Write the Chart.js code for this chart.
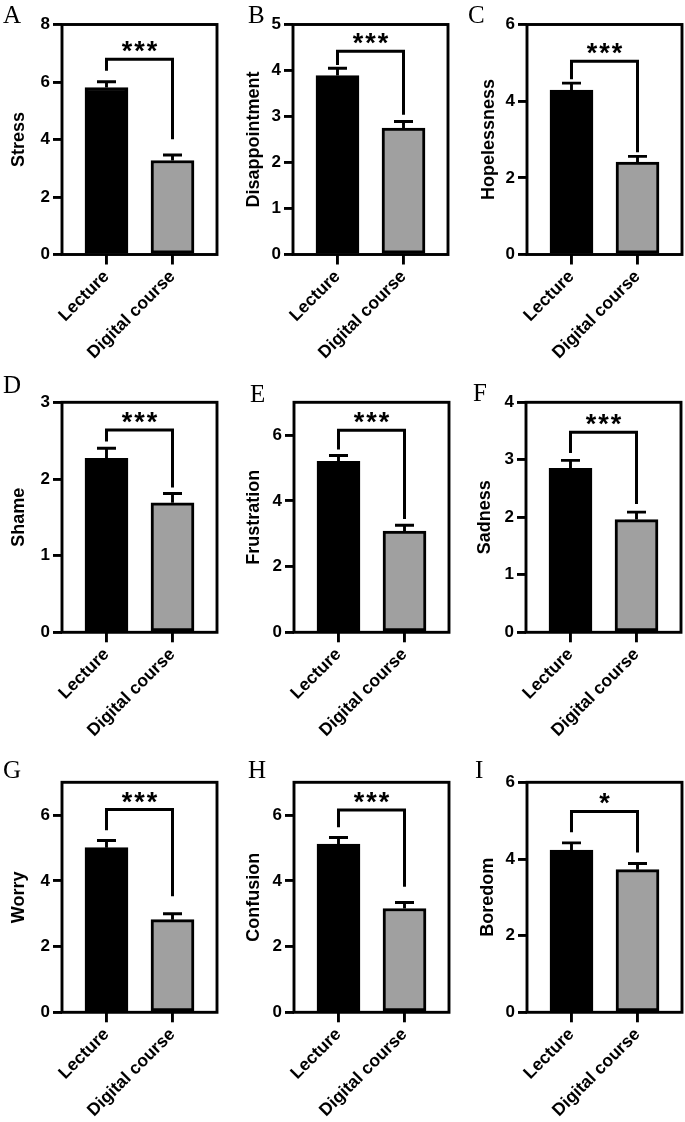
<!DOCTYPE html>
<html>
<head>
<meta charset="utf-8">
<script src="https://cdn.jsdelivr.net/npm/chart.js@4.4.1/dist/chart.umd.min.js"></script>
<style>
  body { margin: 0; background: #fff; }
  #page { position: relative; width: 685px; height: 1122px; overflow: hidden; background: #fff; }
  .panel { position: absolute; }
  .letter { position: absolute; font-family: "Liberation Serif", "DejaVu Serif", serif; font-size: 25px; line-height: 25px; color: #000; }
</style>
</head>
<body>
<div id="page"></div>
<script>
const panelLetters = ["A", "B", "C", "D", "E", "F", "G", "H", "I"];
const measures = ["Stress", "Disappointment", "Hopelessness", "Shame", "Frustration", "Sadness", "Worry", "Confusion", "Boredom"];
const groups = ["Lecture", "Digital course"];

const lectureMeans = [5.81, 3.89, 4.29, 2.27, 5.20, 2.85, 5.01, 5.12, 4.23];
const lectureSem   = [0.20, 0.16, 0.18, 0.13, 0.18, 0.14, 0.22, 0.20, 0.19];
const digitalMeans = [3.27, 2.75, 2.41, 1.69, 3.08, 1.96, 2.82, 3.16, 3.72];
const digitalSem   = [0.19, 0.14, 0.15, 0.12, 0.18, 0.13, 0.18, 0.18, 0.16];

const yMax  = [8, 5, 6, 3, 7, 4, 7, 7, 6];
const yStep = [2, 1, 2, 1, 2, 1, 2, 2, 2];

// significance brackets (y values)
const bracketTop      = [6.79, 4.42, 5.04, 2.64, 6.15, 3.48, 6.17, 6.16, 5.24];
const bracketLeftEnd  = [6.39, 4.12, 4.57, 2.49, 5.56, 3.12, 5.54, 5.63, 4.70];
const bracketRightEnd = [4.01, 3.04, 2.67, 1.89, 3.45, 2.23, 3.53, 3.82, 4.17];
const stars = ["***", "***", "***", "***", "***", "***", "***", "***", "*"];

// layout
const colX = [0, 228, 455];
const colW = [228, 227, 230];
const rowY = [0, 375, 755];
const rowH = [370, 370, 367];
const rowPadTop = [24.5, 27.3, 27.3];
const plotW = 155;
const plotH = 230;
const axisLeft = [62, 65, 72, 62, 66, 71, 62, 66, 72];
const titleCenter = [19, 26, 34, 19.5, 26, 30, 19, 26, 33];
const letterPos = [[3, 23.3], [248, 23.3], [468, 23.3], [3, 392.7], [250, 402], [473, 400.7], [3, 778.3], [248, 778.3], [475, 778.3]];

const FONT = "'Liberation Sans', Arial, sans-serif";
const LINE = 2.9;

const panelDecor = {
  id: "panelDecor",
  afterDatasetsDraw(chart, args, opts) {
    const i = opts.index;
    const { ctx, chartArea: a } = chart;
    const x = chart.scales.x, y = chart.scales.y;
    ctx.save();
    ctx.strokeStyle = "#000";
    ctx.lineWidth = LINE;

    // error bars
    [[lectureMeans, lectureSem], [digitalMeans, digitalSem]].forEach(([m, s], g) => {
      const cx = x.getPixelForValue(g);
      const y0 = y.getPixelForValue(m[i]);
      const y1 = y.getPixelForValue(m[i] + s[i]);
      ctx.beginPath();
      ctx.moveTo(cx, y0);
      ctx.lineTo(cx, y1);
      ctx.moveTo(cx - 9.5, y1);
      ctx.lineTo(cx + 9.5, y1);
      ctx.stroke();
    });

    // frame
    ctx.strokeRect(a.left, a.top, a.right - a.left, a.bottom - a.top);

    // bracket
    const xl = x.getPixelForValue(0);
    const xr = x.getPixelForValue(1);
    const yt = y.getPixelForValue(bracketTop[i]);
    ctx.lineWidth = 3;
    ctx.lineJoin = "miter";
    ctx.beginPath();
    ctx.moveTo(xl, y.getPixelForValue(bracketLeftEnd[i]));
    ctx.lineTo(xl, yt);
    ctx.lineTo(xr, yt);
    ctx.lineTo(xr, y.getPixelForValue(bracketRightEnd[i]));
    ctx.stroke();

    ctx.fillStyle = "#000";
    ctx.font = "bold 27px " + FONT;
    ctx.textAlign = "center";
    ctx.textBaseline = "alphabetic";
    ctx.letterSpacing = "2px";
    ctx.fillText(stars[i], (xl + xr) / 2 + 1, yt + 1);
    ctx.restore();
  }
};

const page = document.getElementById("page");

measures.forEach((measure, i) => {
  const col = i % 3, row = Math.floor(i / 3);
  const w = colW[col], h = rowH[row];
  const padTop = rowPadTop[row];
  const padRight = w - axisLeft[i] - plotW;
  const xHeight = h - padTop - plotH;

  const wrap = document.createElement("div");
  wrap.className = "panel";
  wrap.style.left = colX[col] + "px";
  wrap.style.top = rowY[row] + "px";
  wrap.style.width = w + "px";
  wrap.style.height = h + "px";
  const canvas = document.createElement("canvas");
  canvas.width = w;
  canvas.height = h;
  canvas.style.width = w + "px";
  canvas.style.height = h + "px";
  wrap.appendChild(canvas);
  page.appendChild(wrap);

  const letter = document.createElement("div");
  letter.className = "letter";
  letter.textContent = panelLetters[i];
  letter.style.left = letterPos[i][0] + "px";
  letter.style.top = (letterPos[i][1] - 21) + "px";
  page.appendChild(letter);

  new Chart(canvas.getContext("2d"), {
    type: "bar",
    data: {
      datasets: [{
        data: [
          { x: 0, y: lectureMeans[i] },
          { x: 1, y: digitalMeans[i] }
        ],
        backgroundColor: ["#000000", "#a0a0a0"],
        borderColor: "#000000",
        borderWidth: 3,
        borderSkipped: false,
        barThickness: 43
      }]
    },
    options: {
      responsive: false,
      animation: false,
      layout: { padding: { top: padTop, right: padRight, left: 0, bottom: 0 } },
      plugins: {
        legend: { display: false },
        tooltip: { enabled: false },
        panelDecor: { index: i }
      },
      scales: {
        x: {
          type: "linear",
          min: -0.674,
          max: 1.674,
          offset: false,
          grid: { offset: false, drawOnChartArea: false, tickLength: 10, color: "#000", lineWidth: LINE },
          border: { display: false },
          ticks: {
            autoSkip: false,
            minRotation: 45,
            maxRotation: 45,
            padding: 2,
            color: "#000",
            font: { family: FONT, size: 17.5, weight: "bold" },
            callback: (v) => groups[v]
          },
          afterBuildTicks: (s) => { s.ticks = groups.map((g, k) => ({ value: k })); },
          afterFit: (s) => { s.height = xHeight; }
        },
        y: {
          min: 0,
          max: yMax[i],
          grid: { drawOnChartArea: false, tickLength: 9, color: "#000", lineWidth: LINE },
          border: { display: false },
          ticks: {
            stepSize: yStep[i],
            includeBounds: false,
            padding: 3,
            color: "#000",
            font: { family: FONT, size: 17, weight: "bold" }
          },
          title: {
            display: true,
            text: measure,
            color: "#000",
            font: { family: FONT, size: 18, weight: "bold" },
            padding: { top: titleCenter[i] - 10.8, bottom: 0 }
          },
          afterFit: (s) => { s.width = axisLeft[i]; }
        }
      }
    },
    plugins: [panelDecor]
  });
});
</script>
</body>
</html>
